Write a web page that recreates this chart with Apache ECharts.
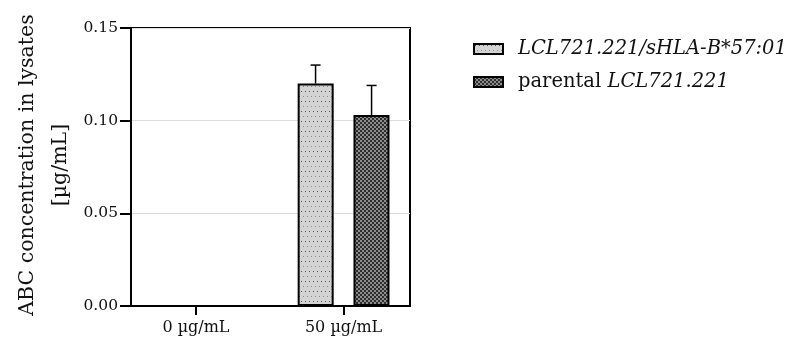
<!DOCTYPE html>
<html><head><meta charset="utf-8">
<script src="https://cdn.jsdelivr.net/npm/echarts@6/dist/echarts.min.js"></script>
<style>html,body{margin:0;padding:0;background:#fff}#c{width:790px;height:347px}</style>
</head><body><div id="c"></div>
<script>
var categories = ['0 \u00b5g/mL', '50 \u00b5g/mL'];
var seriesNames = ['LCL721.221/sHLA-B*57:01', 'parental LCL721.221'];
var sHLA = [0, 0.120];
var parental = [0, 0.103];
var sHLAErr = [0, 0.010];
var parentalErr = [0, 0.016];
var yTicks = [0, 0.05, 0.10, 0.15];

function makePattern(kind) {
  var c = document.createElement('canvas');
  var ctx = c.getContext('2d');
  if (kind === 'dots') {
    c.width = 8; c.height = 10;
    ctx.fillStyle = '#d3d3d3'; ctx.fillRect(0, 0, 8, 10);
    ctx.fillStyle = '#555'; ctx.fillRect(1, 1, 1, 1); ctx.fillRect(5, 1, 1, 1);
    ctx.fillStyle = '#8a8a8a'; ctx.fillRect(3, 6, 1, 1); ctx.fillRect(7, 6, 1, 1);
  } else {
    c.width = 4; c.height = 4;
    ctx.fillStyle = '#2e2e2e'; ctx.fillRect(0, 0, 4, 4);
    ctx.fillStyle = '#8c8c8c'; ctx.fillRect(0, 0, 2, 2); ctx.fillRect(2, 2, 2, 2);
  }
  return { image: c, repeat: 'repeat' };
}

var barData1 = sHLA.map(function (v, i) { return [i, v]; });
var barData2 = parental.map(function (v, i) { return [i, v]; });
var errData = [];
sHLA.forEach(function (v, i) { if (sHLAErr[i] > 0) errData.push([i, v, v + sHLAErr[i], -28]); });
parental.forEach(function (v, i) { if (parentalErr[i] > 0) errData.push([i, v, v + parentalErr[i], 28]); });

var serif = 'DejaVu Serif';
var chart = echarts.init(document.getElementById('c'), null, { renderer: 'canvas' });
chart.setOption({
  animation: false,
  grid: { left: 131, right: 380, top: 28, bottom: 41, show: true, borderColor: '#000', borderWidth: 2, backgroundColor: 'transparent' },
  legend: {
    orient: 'vertical', left: 468, top: 34, itemWidth: 29, itemHeight: 10, itemGap: 13,
    icon: 'rect',
    data: seriesNames,
    formatter: function (n) {
      if (n.indexOf('parental') === 0) return '{n|parental }{i|LCL721.221}';
      return '{i|' + n + '}';
    },
    textStyle: {
      padding: [0, 0, 0, 10],
      rich: {
        n: { fontFamily: serif, fontSize: 19.5, color: '#111' },
        i: { fontFamily: serif, fontSize: 19.5, fontStyle: 'italic', color: '#111' }
      }
    }
  },
  xAxis: {
    type: 'value', min: -0.44, max: 1.45,
    axisLine: { show: true, onZero: false, lineStyle: { color: '#000', width: 2 } },
    axisTick: { show: true, length: 9, customValues: [0, 1], lineStyle: { color: '#000', width: 2 } },
    axisLabel: { customValues: [0, 1], margin: 14, fontFamily: serif, fontSize: 16, color: '#111',
      formatter: function (v) { return categories[Math.round(v)]; } },
    splitLine: { show: false }
  },
  yAxis: {
    type: 'value', min: 0, max: 0.15, interval: 0.05,
    axisLine: { show: true, onZero: false, lineStyle: { color: '#000', width: 2 } },
    axisTick: { show: true, length: 11, lineStyle: { color: '#000', width: 2 } },
    axisLabel: { margin: 13, fontFamily: serif, fontSize: 15.5, color: '#111', formatter: function (v) { return v.toFixed(2); } },
    splitLine: { show: true, lineStyle: { color: '#dedede', width: 1 } }
  },
  graphic: [{
    type: 'text', x: 44, y: 165, rotation: Math.PI / 2,
    style: { text: 'ABC concentration in lysates\n[\u00b5g/mL]', fontFamily: serif, fontSize: 20.5, lineHeight: 33,
      fill: '#111', align: 'center', verticalAlign: 'middle' }
  }],
  series: [
    { name: seriesNames[0], type: 'bar', data: barData1, barWidth: 36, barGap: '55%',
      itemStyle: { color: makePattern('dots'), borderColor: '#000', borderWidth: 2 } },
    { name: seriesNames[1], type: 'bar', data: barData2, barWidth: 36, barGap: '55%',
      itemStyle: { color: makePattern('check'), borderColor: '#000', borderWidth: 2 } },
    { type: 'custom', data: errData, z: 5,
      renderItem: function (params, api) {
        var off = api.value(3);
        var b = api.coord([api.value(0), api.value(1)]);
        var t = api.coord([api.value(0), api.value(2)]);
        var x = b[0] + off;
        return { type: 'group', children: [
          { type: 'line', shape: { x1: x, y1: b[1], x2: x, y2: t[1] }, style: { stroke: '#000', lineWidth: 1.5 } },
          { type: 'line', shape: { x1: x - 5, y1: t[1], x2: x + 5, y2: t[1] }, style: { stroke: '#000', lineWidth: 1.5 } }
        ] };
      } }
  ]
});
</script></body></html>
